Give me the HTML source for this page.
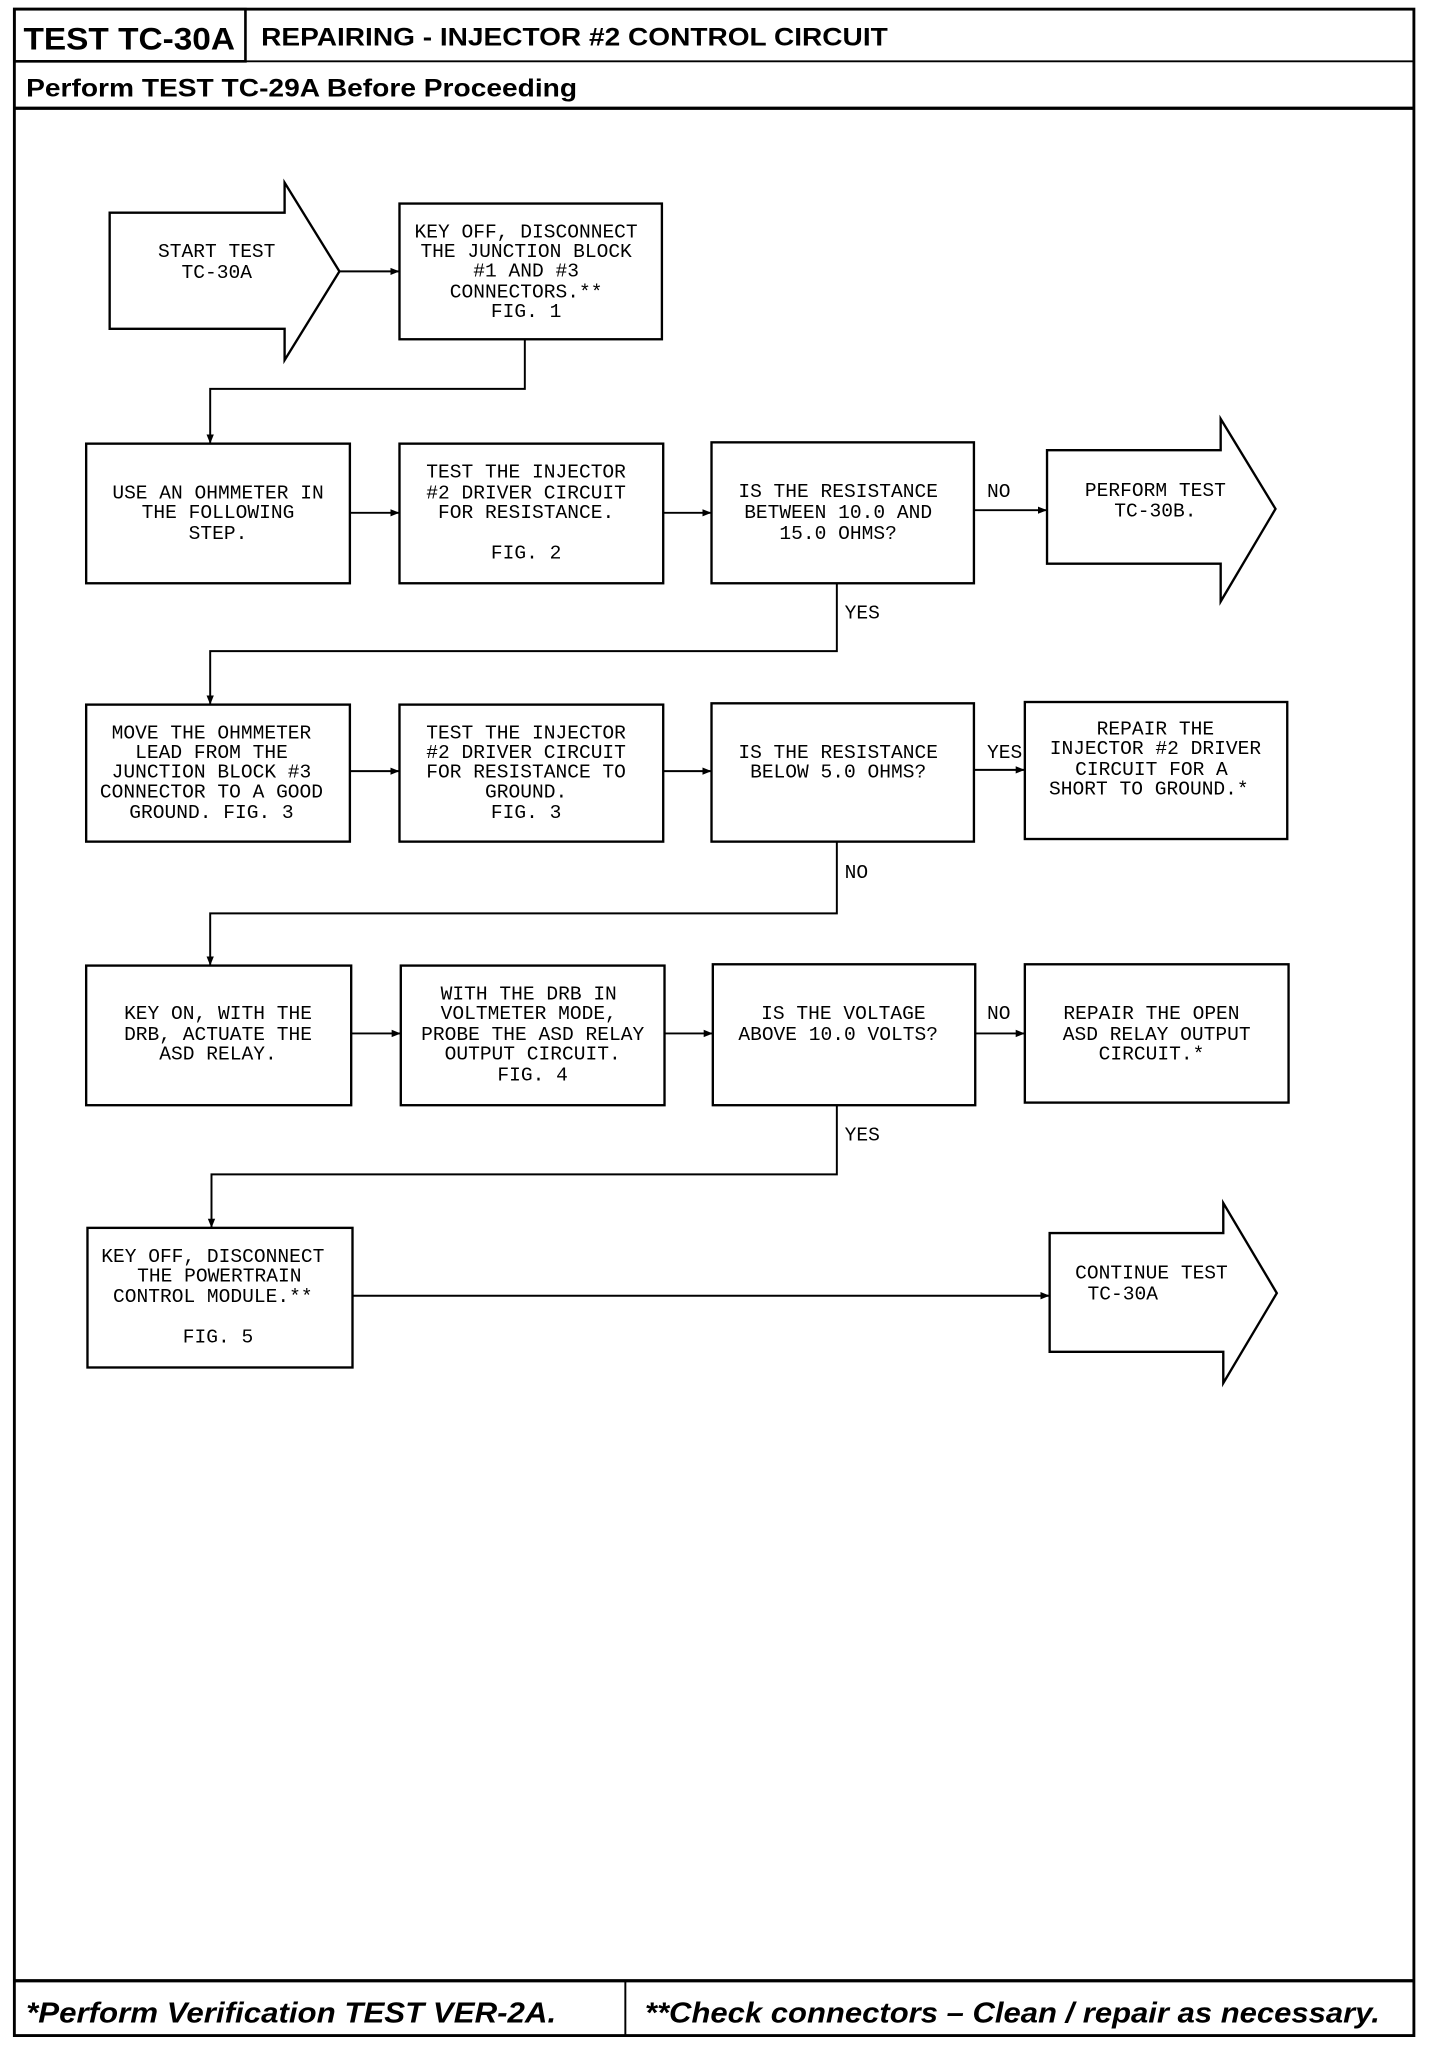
<!DOCTYPE html>
<html><head><meta charset="utf-8"><style>
html,body{margin:0;padding:0;background:#fff;}
svg{display:block;}
.t{font-family:"Liberation Mono",monospace;font-size:15px;fill:#000;text-anchor:middle;}
.l{font-family:"Liberation Mono",monospace;font-size:15px;fill:#000;}
</style></head><body>
<svg width="1440" height="2046" viewBox="0 0 1103 1568" preserveAspectRatio="none" xmlns="http://www.w3.org/2000/svg">
<defs><marker id="a" viewBox="0 0 10 10" refX="10" refY="5" markerWidth="7" markerHeight="7" orient="auto" markerUnits="userSpaceOnUse"><path d="M0,1 L10,5 L0,9z" fill="#000"/></marker></defs>
<g fill="none" stroke="#000">
<rect x="11" y="7" width="1072" height="1553" stroke-width="2.2"/>
<rect x="11" y="7" width="177" height="40" stroke-width="2"/>
<line x1="11" y1="47" x2="1083" y2="47" stroke-width="1.5"/>
<line x1="11" y1="83" x2="1083" y2="83" stroke-width="2.5"/>
<line x1="11" y1="1518" x2="1083" y2="1518" stroke-width="2.5"/>
<line x1="479" y1="1518" x2="479" y2="1560" stroke-width="1.5"/>
</g>
<text x="18" y="38" font-family="Liberation Sans,sans-serif" font-weight="bold" font-size="24" textLength="162" lengthAdjust="spacingAndGlyphs">TEST TC-30A</text>
<text x="200" y="35" font-family="Liberation Sans,sans-serif" font-weight="bold" font-size="19" textLength="480" lengthAdjust="spacingAndGlyphs">REPAIRING - INJECTOR #2 CONTROL CIRCUIT</text>
<text x="20" y="74" font-family="Liberation Sans,sans-serif" font-weight="bold" font-size="19" textLength="422" lengthAdjust="spacingAndGlyphs">Perform TEST TC-29A Before Proceeding</text>
<text x="20" y="1550" font-family="Liberation Sans,sans-serif" font-weight="bold" font-style="italic" font-size="22" textLength="406" lengthAdjust="spacingAndGlyphs">*Perform Verification TEST VER-2A.</text>
<text x="494" y="1550" font-family="Liberation Sans,sans-serif" font-weight="bold" font-style="italic" font-size="22" textLength="563" lengthAdjust="spacingAndGlyphs">**Check connectors – Clean / repair as necessary.</text>

<g fill="none" stroke="#000" stroke-width="1.8">
<path d="M84,163 H218 V140 L260,208 L218,276 V252 H84 Z"/>
<rect x="306" y="156" width="201" height="104"/>
<path d="M802,345 H935 V321 L977,390 L935,461 V432 H802 Z"/>
<rect x="66" y="340" width="202" height="107"/>
<rect x="306" y="340" width="202" height="107"/>
<rect x="545" y="339" width="201" height="108"/>
<rect x="66" y="540" width="202" height="105"/>
<rect x="306" y="540" width="202" height="105"/>
<rect x="545" y="539" width="201" height="106"/>
<rect x="785" y="538" width="201" height="105"/>
<rect x="66" y="740" width="203" height="107"/>
<rect x="307" y="740" width="202" height="107"/>
<rect x="546" y="739" width="201" height="108"/>
<rect x="785" y="739" width="202" height="106"/>
<rect x="67" y="941" width="203" height="107"/>
<path d="M804,945 H937 V922 L978,991 L937,1060 V1036 H804 Z"/>
</g>
<g fill="none" stroke="#000" stroke-width="1.5" marker-end="url(#a)">
<line x1="260" y1="208" x2="306" y2="208"/>
<path d="M402,260 V298 H161 V340"/>
<line x1="268" y1="393" x2="306" y2="393"/>
<line x1="508" y1="393" x2="545" y2="393"/>
<line x1="746" y1="391" x2="802" y2="391"/>
<path d="M641,447 V499 H161 V540"/>
<line x1="268" y1="591" x2="306" y2="591"/>
<line x1="508" y1="591" x2="545" y2="591"/>
<line x1="746" y1="590" x2="785" y2="590"/>
<path d="M641,645 V700 H161 V740"/>
<line x1="269" y1="792" x2="307" y2="792"/>
<line x1="509" y1="792" x2="546" y2="792"/>
<line x1="747" y1="792" x2="785" y2="792"/>
<path d="M641,847 V900 H162 V941"/>
<line x1="270" y1="993" x2="804" y2="993"/>
</g>

<text class="t" x="166"><tspan x="166" y="197">START TEST</tspan><tspan x="166" y="213">TC-30A</tspan></text>
<text class="t"><tspan x="403" y="182">KEY OFF, DISCONNECT</tspan><tspan x="403" y="197">THE JUNCTION BLOCK</tspan><tspan x="403" y="212">#1 AND #3</tspan><tspan x="403" y="228">CONNECTORS.**</tspan><tspan x="403" y="243">FIG. 1</tspan></text>
<text class="t"><tspan x="167" y="382">USE AN OHMMETER IN</tspan><tspan x="167" y="397">THE FOLLOWING</tspan><tspan x="167" y="413">STEP.</tspan></text>
<text class="t"><tspan x="403" y="366">TEST THE INJECTOR</tspan><tspan x="403" y="382">#2 DRIVER CIRCUIT</tspan><tspan x="403" y="397">FOR RESISTANCE.</tspan><tspan x="403" y="428">FIG. 2</tspan></text>
<text class="t"><tspan x="642" y="381">IS THE RESISTANCE</tspan><tspan x="642" y="397">BETWEEN 10.0 AND</tspan><tspan x="642" y="413">15.0 OHMS?</tspan></text>
<text class="t"><tspan x="885" y="380">PERFORM TEST</tspan><tspan x="885" y="396">TC-30B.</tspan></text>
<text class="l" x="756" y="381">NO</text>
<text class="l" x="647" y="474">YES</text>
<text class="t"><tspan x="162" y="566">MOVE THE OHMMETER</tspan><tspan x="162" y="581">LEAD FROM THE</tspan><tspan x="162" y="596">JUNCTION BLOCK #3</tspan><tspan x="162" y="611">CONNECTOR TO A GOOD</tspan><tspan x="162" y="627">GROUND. FIG. 3</tspan></text>
<text class="t"><tspan x="403" y="566">TEST THE INJECTOR</tspan><tspan x="403" y="581">#2 DRIVER CIRCUIT</tspan><tspan x="403" y="596">FOR RESISTANCE TO</tspan><tspan x="403" y="611">GROUND.</tspan><tspan x="403" y="627">FIG. 3</tspan></text>
<text class="t"><tspan x="642" y="581">IS THE RESISTANCE</tspan><tspan x="642" y="596">BELOW 5.0 OHMS?</tspan></text>
<text class="t"><tspan x="885" y="563">REPAIR THE</tspan><tspan x="885" y="578">INJECTOR #2 DRIVER</tspan><tspan x="882" y="594">CIRCUIT FOR A</tspan><tspan x="880" y="609">SHORT TO GROUND.*</tspan></text>
<text class="l" x="756" y="581">YES</text>
<text class="l" x="647" y="673">NO</text>
<text class="t"><tspan x="167" y="781">KEY ON, WITH THE</tspan><tspan x="167" y="797">DRB, ACTUATE THE</tspan><tspan x="167" y="812">ASD RELAY.</tspan></text>
<text class="t"><tspan x="405" y="766">WITH THE DRB IN</tspan><tspan x="405" y="781">VOLTMETER MODE,</tspan><tspan x="408" y="797">PROBE THE ASD RELAY</tspan><tspan x="408" y="812">OUTPUT CIRCUIT.</tspan><tspan x="408" y="828">FIG. 4</tspan></text>
<text class="t"><tspan x="646" y="781">IS THE VOLTAGE</tspan><tspan x="642" y="797">ABOVE 10.0 VOLTS?</tspan></text>
<text class="t"><tspan x="882" y="781">REPAIR THE OPEN</tspan><tspan x="886" y="797">ASD RELAY OUTPUT</tspan><tspan x="882" y="812">CIRCUIT.*</tspan></text>
<text class="l" x="756" y="781">NO</text>
<text class="l" x="647" y="874">YES</text>
<text class="t"><tspan x="163" y="967">KEY OFF, DISCONNECT</tspan><tspan x="168" y="982">THE POWERTRAIN</tspan><tspan x="163" y="998">CONTROL MODULE.**</tspan><tspan x="167" y="1029">FIG. 5</tspan></text>
<text class="t"><tspan x="882" y="980">CONTINUE TEST</tspan><tspan x="860" y="996">TC-30A</tspan></text>
</svg>
</body></html>
